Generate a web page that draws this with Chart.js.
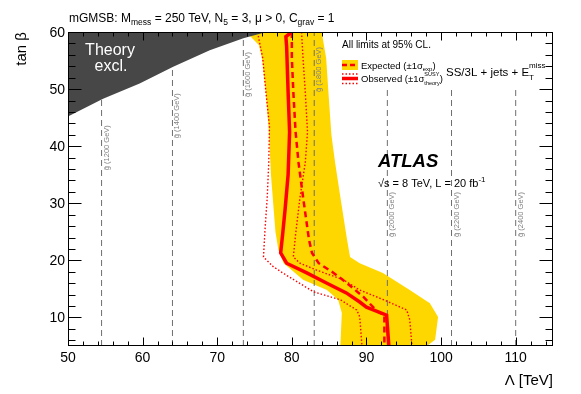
<!DOCTYPE html>
<html>
<head>
<meta charset="utf-8">
<script src="https://cdn.jsdelivr.net/npm/chart.js@4.4.0/dist/chart.umd.min.js"></script>
<style>
    html, body { margin: 0; padding: 0; background: #fff; }
    #limitchart { display: block; }
</style>
</head>
<body>
<canvas id="limitchart" width="581" height="394"></canvas>
<script>
const FONT = '"Liberation Sans", Arial, Helvetica, sans-serif';

// axes
const xRange = [50, 115];
const yRange = [5, 60];
const xTickValues = [50, 60, 70, 80, 90, 100, 110];
const yTickValues = [10, 20, 30, 40, 50, 60];

// theory excluded region (Lambda, tan beta), closed at the top-left corner
const theoryLambda = [50, 54.7, 59.6, 64.1, 69.0, 73.5, 76.6, 50];
const theoryTanB = [45.2, 48.3, 51.0, 53.9, 56.8, 58.9, 60, 60];

// expected +-1 sigma band
const bandLeftTanB = [60, 59.3, 57.7, 55.4, 49.5, 43, 35, 30, 25, 21.8, 19.5, 16.6, 14.8, 13.1, 10.8, 5];
const bandLeftLambda = [74.0, 74.4, 75.6, 76.0, 76.5, 76.9, 77.2, 77.5, 77.8, 78.2, 78.9, 81.5, 84.7, 86.2, 86.7, 86.5];
const bandRightTanB = [60, 55.4, 49.5, 42, 37.1, 31.1, 23.6, 20.6, 19.5, 17.8, 14.8, 12.5, 10.1, 6.1, 5];
const bandRightLambda = [84.0, 84.6, 84.9, 85.3, 85.8, 86.5, 87.4, 87.8, 89.1, 92.2, 95.8, 98.5, 99.6, 99.2, 98.1];

// expected limit
const expTanB = [60, 55.4, 49.5, 42.5, 37.1, 31.1, 23.6, 21.3, 19.5, 17.8, 16.0, 13.6, 11.8, 11.0, 10.4, 5];
const expLambda = [80.0, 80.0, 80.2, 80.5, 80.9, 81.5, 82.3, 82.7, 83.6, 85.6, 87.4, 89.6, 90.9, 91.5, 92.4, 92.4];

// observed limit and theory +-1 sigma
const obsTanB = [60, 59.2, 57.5, 49.5, 42.5, 35, 29, 25, 21.3, 19.5, 17.8, 16.0, 14.3, 12.7, 11.8, 10.4, 5];
const obsLambda = [80.0, 79.2, 79.3, 79.5, 79.7, 79.5, 79.1, 78.8, 78.5, 79.3, 82.0, 84.7, 87.3, 89.1, 90.0, 92.7, 93.0];
const obsUpTanB = [60, 55.4, 49.5, 42.5, 37.1, 31.1, 24.5, 20.6, 19.5, 18.3, 16.6, 14.8, 13.1, 11.3, 9.6, 5];
const obsUpLambda = [81.3, 81.5, 81.8, 82.1, 81.8, 81.1, 80.5, 80.2, 81.1, 83.3, 86.9, 89.1, 92.3, 95.4, 95.8, 96.1];
const obsDownTanB = [59.3, 55.4, 49.8, 43.5, 37, 31, 25.3, 20.6, 18.9, 17.7, 14.5, 13.1, 11.3, 10.1, 5];
const obsDownLambda = [75.5, 76.1, 76.5, 77.0, 76.9, 76.7, 76.4, 76.2, 77.5, 78.9, 82.9, 86.5, 88.7, 89.1, 89.4];

// gluino mass contours
const gluinoMass = [1200, 1400, 1600, 1800, 2000, 2200, 2400];
const gluinoLambda = [54.5, 64.0, 73.5, 83.0, 92.8, 101.4, 110.0];
const gluinoTopTanB = [60, 60, 60, 60, 50.2, 50.2, 50.2];
const gluinoLabelTanB = [35.8, 41.4, 48.6, 49.5, 24.1, 24.1, 24.1];

const RED = 'rgb(255, 0, 0)';
const YELLOW = 'rgb(255, 215, 0)';

function toPoints(lam, tb) {
    return lam.map((v, i) => ({ x: v, y: tb[i] }));
}

const bandPoints = toPoints(bandLeftLambda, bandLeftTanB)
    .concat(toPoints(bandRightLambda, bandRightTanB).reverse());

const datasets = [
    { data: toPoints(obsLambda, obsTanB), borderColor: RED, borderWidth: 3.5, order: 0 },
    { data: toPoints(expLambda, expTanB), borderColor: RED, borderWidth: 2.5, borderDash: [6, 4], order: 1 },
    { data: toPoints(obsUpLambda, obsUpTanB), borderColor: RED, borderWidth: 1.4, borderDash: [1.5, 2], order: 2 },
    { data: toPoints(obsDownLambda, obsDownTanB), borderColor: RED, borderWidth: 1.4, borderDash: [1.5, 2], order: 3 },
    { data: toPoints(theoryLambda, theoryTanB), borderWidth: 0, backgroundColor: '#474747', fill: 'shape', order: 4 },
];

gluinoLambda.forEach((lam, i) => {
    datasets.push({
        data: [{ x: lam, y: yRange[0] }, { x: lam, y: gluinoTopTanB[i] }],
        borderColor: '#6e6e6e', borderWidth: 1, borderDash: [6, 4], order: 5
    });
});

datasets.push({ data: bandPoints, borderWidth: 0, backgroundColor: YELLOW, fill: 'shape', order: 6 });

// draws the text pieces one after the other, returns the end x
function richText(ctx, x, y, parts) {
    let cx = x;
    parts.forEach(p => {
        ctx.font = (p.style || '') + ' ' + p.size + 'px ' + FONT;
        ctx.fillText(p.t, cx, y + (p.dy || 0));
        if (!p.stay) cx += ctx.measureText(p.t).width;
    });
    return cx;
}

const framePlugin = {
    id: 'framePlugin',
    afterDatasetsDraw(chart) {
        const { ctx, chartArea: a, scales: { x, y } } = chart;
        ctx.save();

        // gluino labels
        ctx.fillStyle = '#808080';
        ctx.font = '7.5px ' + FONT;
        ctx.textAlign = 'left';
        ctx.textBaseline = 'alphabetic';
        gluinoMass.forEach((m, i) => {
            ctx.save();
            ctx.translate(x.getPixelForValue(gluinoLambda[i]) + 7, y.getPixelForValue(gluinoLabelTanB[i]));
            ctx.rotate(-Math.PI / 2);
            ctx.fillText('g\u0303 (' + m + ' GeV)', 0, 0);
            ctx.restore();
        });

        // frame
        ctx.strokeStyle = '#000';
        ctx.lineWidth = 1;
        const L = Math.round(a.left) + 0.5, R = Math.round(a.right) - 0.5;
        const T = Math.round(a.top) + 0.5, B = Math.round(a.bottom) - 0.5;
        ctx.strokeRect(L, T, R - L, B - T);

        // ticks
        ctx.beginPath();
        for (let v = xRange[0]; v < xRange[1]; v += 2) {
            const px = Math.round(x.getPixelForValue(v)) + 0.5;
            const len = (v - xRange[0]) % 10 === 0 ? 8 : 4;
            ctx.moveTo(px, B); ctx.lineTo(px, B - len);
            ctx.moveTo(px, T); ctx.lineTo(px, T + len);
        }
        for (let v = 6; v <= yRange[1]; v += 2) {
            const py = Math.round(y.getPixelForValue(v)) + 0.5;
            const len = v % 10 === 0 ? 13 : 7;
            ctx.moveTo(L, py); ctx.lineTo(L + len, py);
            ctx.moveTo(R, py); ctx.lineTo(R - len, py);
        }
        ctx.stroke();

        // tick labels
        ctx.fillStyle = '#000';
        ctx.font = '14px ' + FONT;
        ctx.textAlign = 'center';
        ctx.textBaseline = 'alphabetic';
        xTickValues.forEach(v => ctx.fillText(String(v), x.getPixelForValue(v), 362));
        ctx.textAlign = 'right';
        ctx.textBaseline = 'middle';
        yTickValues.forEach(v => ctx.fillText(String(v), 65, y.getPixelForValue(v) + 1));

        // axis titles
        ctx.textBaseline = 'alphabetic';
        ctx.font = '15px ' + FONT;
        ctx.textAlign = 'right';
        ctx.fillText('\u039B [TeV]', a.right, 385);
        ctx.save();
        ctx.translate(26, a.top);
        ctx.rotate(-Math.PI / 2);
        ctx.fillText('tan \u03B2', 0, 0);
        ctx.restore();

        // header
        ctx.textAlign = 'left';
        richText(ctx, 69, 21.5, [
            { t: 'mGMSB: M', size: 12 }, { t: 'mess', size: 8.5, dy: 3.5 },
            { t: ' = 250 TeV, N', size: 12 }, { t: '5', size: 8.5, dy: 3.5 },
            { t: ' = 3, \u03BC > 0, C', size: 12 }, { t: 'grav', size: 8.5, dy: 3.5 },
            { t: ' = 1', size: 12 }
        ]);

        // theory excl.
        ctx.fillStyle = '#fff';
        ctx.font = '16px ' + FONT;
        ctx.textAlign = 'center';
        ctx.fillText('Theory', 110, 55);
        ctx.fillText('excl.', 111, 71);

        // legend
        ctx.fillStyle = '#000';
        ctx.textAlign = 'left';
        ctx.font = '10px ' + FONT;
        ctx.fillText('All limits at 95% CL.', 342, 47.5);

        ctx.fillStyle = YELLOW;
        ctx.fillRect(342, 60, 16, 10);
        ctx.strokeStyle = RED;
        ctx.lineWidth = 2.5;
        ctx.setLineDash([5, 3]);
        ctx.beginPath(); ctx.moveTo(342, 65); ctx.lineTo(358, 65); ctx.stroke();
        ctx.lineWidth = 3.5;
        ctx.setLineDash([]);
        ctx.beginPath(); ctx.moveTo(342, 78.5); ctx.lineTo(358, 78.5); ctx.stroke();
        ctx.lineWidth = 1.4;
        ctx.setLineDash([1.5, 2]);
        ctx.beginPath();
        ctx.moveTo(342, 74); ctx.lineTo(358, 74);
        ctx.moveTo(342, 83.5); ctx.lineTo(358, 83.5);
        ctx.stroke();
        ctx.setLineDash([]);

        ctx.fillStyle = '#000';
        richText(ctx, 361, 68.5, [
            { t: 'Expected (\u00B11\u03C3', size: 9.5 }, { t: 'exp', size: 6, dy: 2.5 }, { t: ')', size: 9.5 }
        ]);
        richText(ctx, 361, 81.5, [
            { t: 'Observed (\u00B11\u03C3', size: 9.5 },
            { t: 'SUSY', size: 5.5, dy: -5.5, stay: true }, { t: 'theory', size: 5.5, dy: 3.5 },
            { t: ')', size: 9.5 }
        ]);
        const ex = richText(ctx, 446, 76, [{ t: 'SS/3L + jets + E', size: 11.5 }]);
        richText(ctx, ex, 76, [{ t: 'miss', size: 8, dy: -8, stay: true }, { t: 'T', size: 8, dy: 3.5 }]);

        // ATLAS label
        ctx.font = 'italic bold 18.5px ' + FONT;
        ctx.fillText('ATLAS', 378, 167);
        richText(ctx, 378, 186.5, [
            { t: '\u221As = 8 TeV, L = 20 fb', size: 11 }, { t: '-1', size: 8, dy: -5 }
        ]);

        ctx.restore();
    }
};

new Chart(document.getElementById('limitchart'), {
    type: 'line',
    data: { datasets: datasets },
    options: {
        responsive: false,
        animation: false,
        events: [],
        layout: { padding: { left: 68, right: 28, top: 32, bottom: 48 } },
        elements: { point: { radius: 0 }, line: { tension: 0, fill: false } },
        plugins: { legend: { display: false }, tooltip: { enabled: false } },
        scales: {
            x: { type: 'linear', min: xRange[0], max: xRange[1], display: false },
            y: { type: 'linear', min: yRange[0], max: yRange[1], display: false }
        }
    },
    plugins: [framePlugin]
});
</script>
</body>
</html>
